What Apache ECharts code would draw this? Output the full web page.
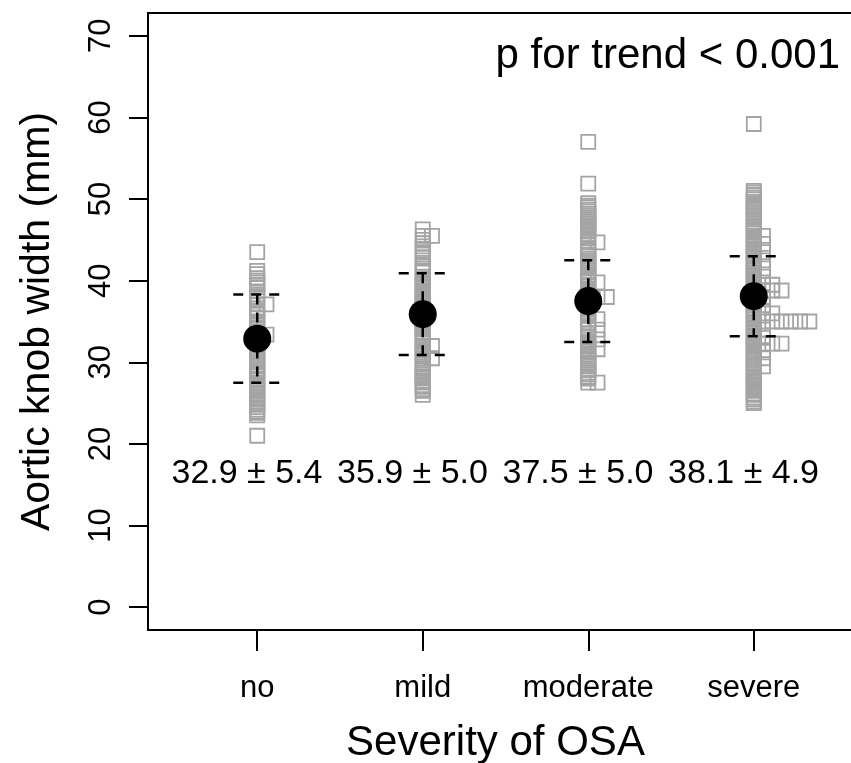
<!DOCTYPE html>
<html><head><meta charset="utf-8">
<script src="https://cdn.jsdelivr.net/npm/echarts@6/dist/echarts.min.js"></script>
<style>html,body{margin:0;padding:0;background:#fff}#c{width:851px;height:763px}</style>
</head><body><div id="c"></div>
<script>
const categories = ['no', 'mild', 'moderate', 'severe'];
const means = [32.9, 35.9, 37.5, 38.1];
const sds = [5.4, 5.0, 5.0, 4.9];
const yTicks = [0, 10, 20, 30, 40, 50, 60, 70];
const pText = 'p for trend < 0.001';

const noValues = [43.5, 41.2, 40.8, 40.3, 40.0, 39.8, 39.5, 39.2, 38.7, 38.3, 38.0, 37.9, 37.1, 37.1,
  36.6, 36.3, 36.0, 35.8, 35.5, 35.0, 34.8, 34.5, 34.2, 34.0, 33.4, 33.4, 33.0, 32.8, 32.5, 32.2,
  32.0, 31.7, 31.5, 31.2, 31.0, 30.7, 30.5, 30.2, 30.0, 29.7, 29.5, 29.2, 29.0, 28.6, 28.3, 28.0,
  27.8, 27.5, 27.2, 27.0, 26.7, 26.5, 26.2, 26.0, 25.7, 25.5, 25.2, 25.0, 24.8, 24.5, 24.2, 24.0,
  23.8, 23.5, 21.0];
const mildValues = [46.3, 45.5, 45.5, 45.0, 44.6, 44.2, 43.9, 43.5, 43.2, 42.8, 42.0, 41.8, 41.5,
  41.2, 41.0, 40.5, 40.2, 40.0, 39.7, 39.5, 39.2, 39.0, 38.7, 38.5, 38.2, 38.0, 37.7, 37.5, 37.2,
  37.0, 36.7, 36.5, 36.2, 36.0, 35.7, 35.5, 35.2, 35.0, 34.7, 34.5, 34.2, 34.0, 33.7, 33.5, 33.2,
  33.0, 32.7, 32.5, 32.0, 32.0, 31.8, 31.5, 31.2, 31.0, 30.8, 30.5, 30.5, 30.0, 29.8, 29.5, 29.2,
  29.0, 28.7, 28.5, 28.2, 28.0, 27.7, 27.5, 27.2, 27.0, 26.7, 26.5, 26.0];
const moderateValues = [57.0, 51.9, 49.5, 49.2, 49.0, 48.7, 48.5, 48.2, 48.0, 47.7, 47.5, 47.2, 47.0,
  46.7, 46.5, 46.2, 46.0, 45.7, 45.5, 45.2, 44.7, 44.7, 44.0, 43.7, 43.5, 43.2, 43.0, 42.7, 42.5,
  42.2, 42.0, 41.7, 41.5, 41.2, 41.0, 40.7, 40.5, 40.2, 40.0, 39.8, 39.8, 39.3, 39.0, 38.7, 38.5,
  38.2, 38.0, 38.0, 38.0, 37.7, 37.5, 37.2, 37.0, 36.7, 36.5, 36.2, 36.0, 35.7, 35.3, 35.3, 34.8,
  34.5, 34.2, 34.0, 34.0, 33.5, 33.2, 32.8, 32.8, 32.5, 32.2, 32.0, 31.6, 31.6, 31.3, 31.0, 30.7,
  30.5, 30.2, 30.0, 29.7, 29.5, 29.2, 29.0, 28.7, 28.5, 28.2, 28.0, 27.5, 27.5];
const severeValues = [59.2, 51.0, 50.8, 50.5, 50.2, 50.0, 49.7, 49.5, 49.2, 49.0, 48.7, 48.5, 48.2,
  48.0, 47.7, 47.5, 47.2, 47.0, 46.7, 46.5, 46.2, 46.0, 45.5, 45.5, 45.2, 45.0, 44.7, 44.5, 44.5,
  44.2, 44.0, 43.7, 43.5, 43.5, 43.2, 43.0, 42.7, 42.5, 42.5, 42.2, 42.0, 41.7, 41.5, 41.5, 41.2,
  41.0, 40.7, 40.5, 40.5, 40.2, 40.0, 39.7, 39.5, 39.5, 39.5, 39.2, 39.0, 38.8, 38.8, 38.8, 38.8,
  38.5, 38.2, 38.0, 38.0, 37.7, 37.5, 37.2, 37.0, 37.0, 36.7, 36.5, 36.2, 36.0, 36.0, 36.0, 35.7,
  35.5, 35.0, 35.0, 35.0, 35.0, 35.0, 35.0, 35.0, 34.7, 34.5, 34.2, 34.0, 34.0, 33.7, 33.5, 33.2,
  33.0, 33.0, 32.7, 32.5, 32.3, 32.3, 32.3, 32.3, 32.0, 31.7, 31.5, 31.5, 31.2, 31.0, 30.7, 30.5,
  30.5, 30.2, 30.0, 29.7, 29.5, 29.5, 29.2, 29.0, 28.7, 28.5, 28.2, 28.0, 27.7, 27.5, 27.2, 27.0,
  26.7, 26.5, 26.2, 26.0, 25.7, 25.5, 25.2, 25.0];

const groups = [noValues, mildValues, moderateValues, severeValues];
const STACK = 0.056;
const pointData = [];
groups.forEach((vals, gi) => {
  const seen = {};
  vals.forEach(v => {
    const k = seen[v] || 0;
    seen[v] = k + 1;
    pointData.push([gi + 1 + k * STACK, v]);
  });
});
const FONT = '"Liberation Sans", Arial, Helvetica, sans-serif';
const errData = means.map((m, i) => [i + 1, m, sds[i]]);
const meanData = means.map((m, i) => [i + 1, m]);
const LABEL_Y = 16.4;
const LABEL_DX = -0.062;
const labelData = means.map((m, i) => [i + 1 + LABEL_DX, LABEL_Y, m, sds[i]]);

const chart = echarts.init(document.getElementById('c'), null, {renderer: 'canvas'});
chart.setOption({
  animation: false,
  backgroundColor: '#fff',
  title: {
    text: pText, right: 6, top: 30,
    textStyle: {fontFamily: FONT, fontSize: 42, fontWeight: 'normal', color: '#000'}
  },
  grid: {left: 148, top: 13, right: -12, bottom: 133, outerBoundsMode: 'none', containLabel: false,
    show: true, borderColor: '#000', borderWidth: 2, backgroundColor: 'transparent'},
  xAxis: {
    type: 'value', min: 0.34, max: 4.66,
    name: 'Severity of OSA', nameLocation: 'middle', nameGap: 92,
    nameTextStyle: {fontFamily: FONT, fontSize: 42, color: '#000', padding: [0, 20, 0, 0]},
    axisLine: {show: false, onZero: false},
    splitLine: {show: false},
    axisTick: {show: true, customValues: [1, 2, 3, 4], length: 21, lineStyle: {color: '#000', width: 2}},
    axisLabel: {show: true, customValues: [1, 2, 3, 4], margin: 43, fontFamily: FONT, fontSize: 31, color: '#000',
      formatter: v => categories[Math.round(v) - 1]}
  },
  yAxis: {
    type: 'value', min: -2.8, max: 72.8,
    name: 'Aortic knob width (mm)', nameLocation: 'middle', nameGap: 90, nameRotate: 90,
    nameTextStyle: {fontFamily: FONT, fontSize: 41, color: '#000'},
    axisLine: {show: false, onZero: false},
    splitLine: {show: false},
    axisTick: {show: true, customValues: yTicks, length: 19, lineStyle: {color: '#000', width: 2}},
    axisLabel: {show: true, customValues: yTicks, rotate: 90, margin: 31, fontFamily: FONT, fontSize: 31, color: '#000'}
  },
  series: [
    {
      type: 'scatter', data: pointData, symbol: 'rect', symbolSize: 14,
      itemStyle: {color: 'rgba(0,0,0,0)', borderColor: '#a4a4a4', borderWidth: 1.8, opacity: 1},
      silent: true, z: 2
    },
    {
      type: 'custom', data: errData, z: 3, clip: false,
      renderItem: (params, api) => {
        const x = api.value(0), m = api.value(1), s = api.value(2);
        const hw = 0.145;
        const st = {stroke: '#000', lineWidth: 2.5, lineDash: [10, 8]};
        const t = api.coord([x, m + s]), b = api.coord([x, m - s]);
        const tl = api.coord([x - hw, m + s]), tr = api.coord([x + hw, m + s]);
        const bl = api.coord([x - hw, m - s]), br = api.coord([x + hw, m - s]);
        return {type: 'group', children: [
          {type: 'line', shape: {x1: t[0], y1: t[1], x2: b[0], y2: b[1]}, style: st},
          {type: 'line', shape: {x1: tl[0], y1: tl[1], x2: tr[0], y2: tr[1]}, style: st},
          {type: 'line', shape: {x1: bl[0], y1: bl[1], x2: br[0], y2: br[1]}, style: st}
        ]};
      }
    },
    {
      type: 'scatter', data: meanData, symbol: 'circle', symbolSize: 28,
      itemStyle: {color: '#000', opacity: 1}, z: 4, silent: true
    },
    {
      type: 'custom', data: labelData, z: 5, clip: false,
      renderItem: (params, api) => {
        const p = api.coord([api.value(0), api.value(1)]);
        const txt = api.value(2).toFixed(1) + ' \u00b1 ' + api.value(3).toFixed(1);
        return {type: 'text', x: p[0], y: p[1], style: {text: txt, fill: '#000', font: '34px ' + FONT,
          align: 'center', verticalAlign: 'middle', textAlign: 'center', textVerticalAlign: 'middle'}};
      }
    }
  ]
});
</script></body></html>
